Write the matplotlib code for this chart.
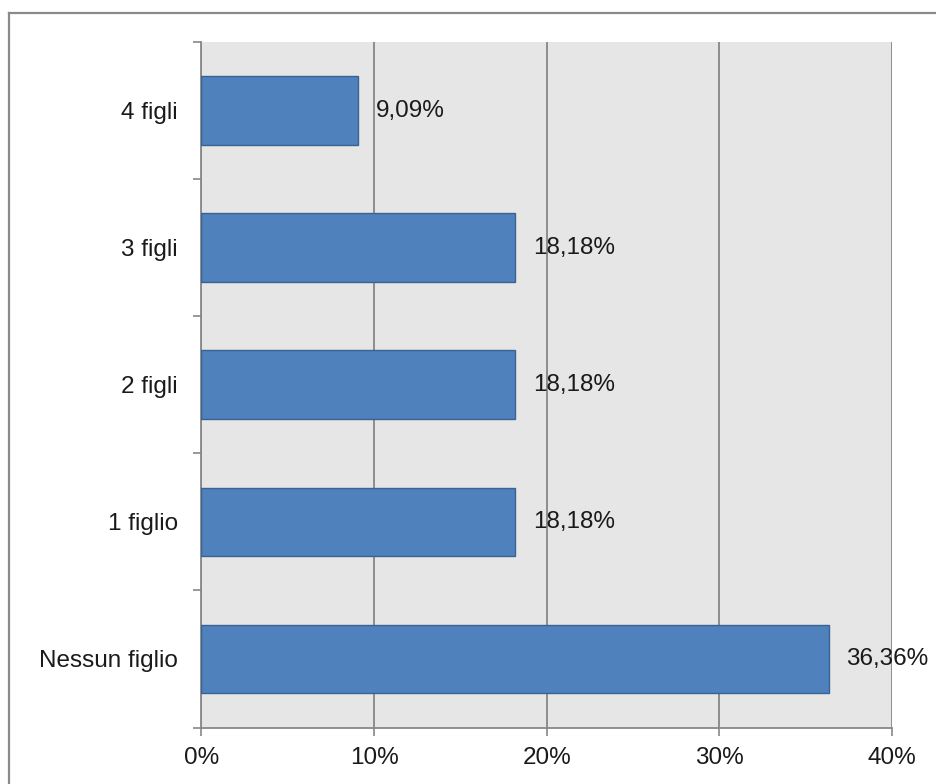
import matplotlib.pyplot as plt
from matplotlib.lines import Line2D

plt.rcParams['font.family'] = ['Liberation Sans', 'DejaVu Sans']

# Data
categorie = ['Nessun figlio', '1 figlio', '2 figli', '3 figli', '4 figli']
percentuali = [36.36, 18.18, 18.18, 18.18, 9.09]
x_ticks = [0, 10, 20, 30, 40]
x_labels = ['0%', '10%', '20%', '30%', '40%']

fig = plt.figure(figsize=(9.37, 7.84), dpi=100)
fig.patch.set_facecolor('white')

# outer frame (only top and left visible in the crop)
fig.add_artist(Line2D([9 / 937, 1.0], [1 - 13 / 784, 1 - 13 / 784],
                      transform=fig.transFigure, color='#8a8a8a', lw=1.6))
fig.add_artist(Line2D([9 / 937, 9 / 937], [0.0, 1 - 13 / 784],
                      transform=fig.transFigure, color='#8a8a8a', lw=1.6))

ax = fig.add_axes([201.5 / 937, 1 - 727.5 / 784, 690.5 / 937, 685.5 / 784])
ax.set_facecolor('#e6e6e6')

pos = range(len(categorie))
ax.barh(pos, percentuali, height=0.5, color='#4f81bd', edgecolor='#3a6292',
        linewidth=1.0, zorder=3)

for y, v in zip(pos, percentuali):
    ax.annotate(f'{v:.2f}'.replace('.', ',') + '%', xy=(v, y),
                xytext=(12.5, 0), textcoords='offset points',
                va='center', ha='left', fontsize=17.5, color='#1a1a1a', zorder=4)

ax.set_xlim(0, 40)
ax.set_ylim(-0.5, len(categorie) - 0.5)
ax.set_xticks(x_ticks)
ax.set_xticklabels(x_labels, fontsize=17.5, color='#1a1a1a')
ax.set_yticks(list(pos))
ax.set_yticklabels(categorie, fontsize=17.5, color='#1a1a1a')
ax.set_yticks([p - 0.5 for p in range(len(categorie) + 1)], minor=True)

ax.tick_params(axis='y', which='major', length=0, pad=17)
ax.tick_params(axis='y', which='minor', length=6, width=1.2, color='#888888')
ax.tick_params(axis='x', length=6, width=1.2, color='#888888', pad=8)

ax.grid(axis='x', color='#868686', lw=1.3, zorder=1)
ax.set_axisbelow(True)

for s in ['top', 'right']:
    ax.spines[s].set_visible(False)
for s in ['left', 'bottom']:
    ax.spines[s].set_color('#888888')
    ax.spines[s].set_linewidth(1.3)

fig.savefig('out.png', dpi=100)
